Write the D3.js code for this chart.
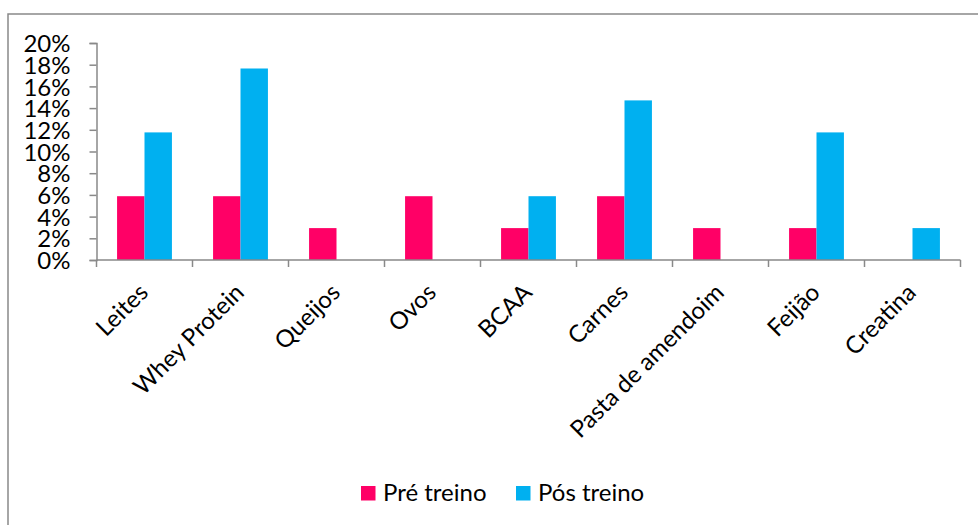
<!DOCTYPE html>
<html>
<head>
<meta charset="utf-8">
<script src="https://cdn.jsdelivr.net/npm/d3@7"></script>
<style>
  body { margin: 0; background: #fff; }
  svg text { font-family: Lato, "Open Sans", sans-serif; fill: #000; }
</style>
</head>
<body>
<div id="chart"></div>
<script>
// data (fractions of respondents)
let categories = ["Leites", "Whey Protein", "Queijos", "Ovos", "BCAA", "Carnes", "Pasta de amendoim", "Feijão", "Creatina"];
let seriesNames = ["Pré treino", "Pós treino"];
let preTreino = [0.0588, 0.0588, 0.0294, 0.0588, 0.0294, 0.0588, 0.0294, 0.0294, 0];
let posTreino = [0.1176, 0.1765, 0, 0, 0.0588, 0.1471, 0, 0.1176, 0.0294];
let yTicks = [0, 0.02, 0.04, 0.06, 0.08, 0.10, 0.12, 0.14, 0.16, 0.18, 0.20];
let colors = ["#ff0066", "#00b0f0"];

let width = 978, height = 525;
let plot = { left: 96.5, right: 960.5, top: 43, bottom: 260 };

let svg = d3.select("#chart").append("svg")
    .attr("width", width)
    .attr("height", height);

// chart frame (only left + top edges are visible in the crop)
svg.append("path")
    .attr("d", "M8," + height + "V14H" + width)
    .attr("fill", "none")
    .attr("stroke", "#898989")
    .attr("stroke-width", 1.5);

let x0 = d3.scaleBand().domain(categories).range([plot.left, plot.right]).paddingInner(0).paddingOuter(0);
let x1 = d3.scaleBand().domain(seriesNames).range([0, x0.bandwidth()]).paddingInner(0).paddingOuter(0.75);
let y = d3.scaleLinear().domain([0, 0.2]).range([plot.bottom, plot.top]);

let rows = categories.map((c, i) => ({ cat: c, values: [preTreino[i], posTreino[i]] }));

let groups = svg.append("g").selectAll("g")
    .data(rows)
    .join("g")
    .attr("transform", d => "translate(" + x0(d.cat) + ",0)");

groups.selectAll("rect")
    .data(d => d.values.map((v, k) => ({ v: v, k: k })).filter(e => e.v > 0))
    .join("rect")
    .attr("x", e => x1(seriesNames[e.k]))
    .attr("width", x1.bandwidth())
    .attr("y", e => y(e.v))
    .attr("height", e => y(0) - y(e.v))
    .attr("fill", e => colors[e.k]);

// y axis
let yAxis = svg.append("g")
    .attr("transform", "translate(" + plot.left + ",0)")
    .call(d3.axisLeft(y).tickValues(yTicks).tickFormat(d3.format(".0%")).tickSizeOuter(0).tickSize(7).tickPadding(19));
yAxis.selectAll("line, path").attr("stroke", "#898989").attr("stroke-width", 1.5);
yAxis.selectAll("text").style("font-size", "24px").attr("dy", "0.36em");

// x axis: ticks at category boundaries
let xAxis = svg.append("g").attr("transform", "translate(0," + plot.bottom + ")");
xAxis.append("line")
    .attr("x1", plot.left).attr("x2", plot.right)
    .attr("stroke", "#898989").attr("stroke-width", 1.5);
let bounds = categories.map(c => x0(c)).concat([plot.right]);
xAxis.selectAll("line.tick")
    .data(bounds)
    .join("line")
    .attr("class", "tick")
    .attr("x1", d => d).attr("x2", d => d)
    .attr("y1", 0).attr("y2", 7)
    .attr("stroke", "#898989").attr("stroke-width", 1.5);

xAxis.selectAll("text")
    .data(categories)
    .join("text")
    .attr("transform", d => "translate(" + (x0(d) + x0.bandwidth() / 2 + 5) + ",34) rotate(-45)")
    .attr("text-anchor", "end")
    .style("font-size", "24px")
    .text(d => d);

// legend
let legend = svg.append("g");
let legendX = [361, 516];
seriesNames.forEach((name, k) => {
    legend.append("rect")
        .attr("x", legendX[k]).attr("y", 486)
        .attr("width", 14.5).attr("height", 14.5)
        .attr("fill", colors[k]);
    legend.append("text")
        .attr("x", legendX[k] + 22).attr("y", 501)
        .style("font-size", "24px")
        .text(name);
});
</script>
</body>
</html>
